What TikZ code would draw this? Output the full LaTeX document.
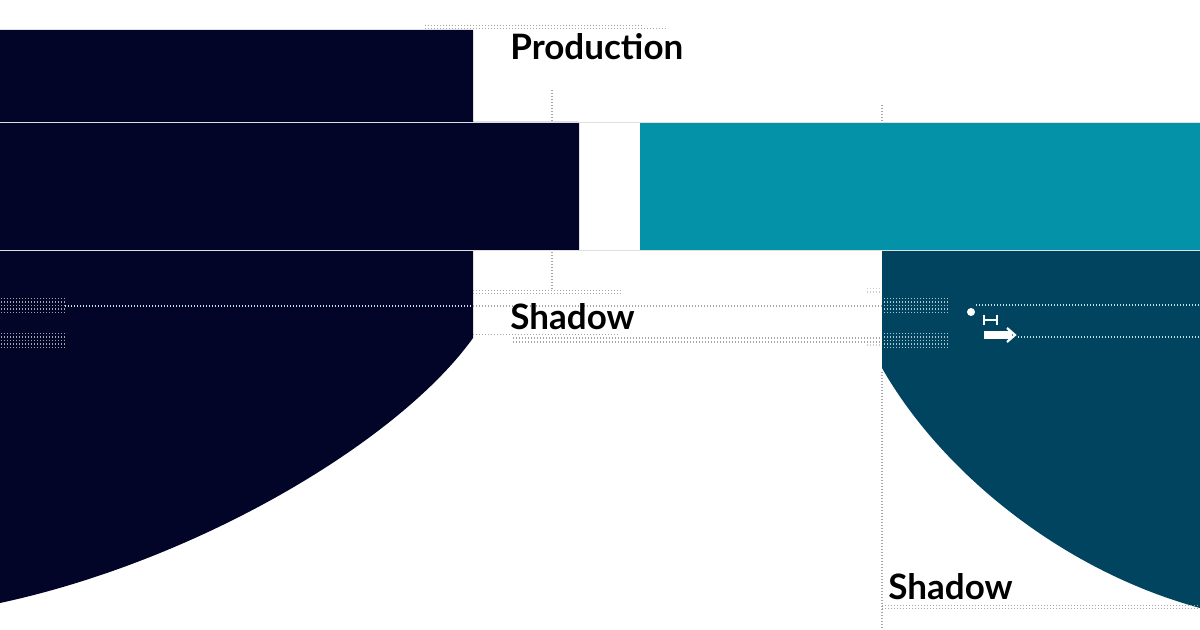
\documentclass[tikz,border=0pt]{standalone}
\usepackage{fontspec}
\setmainfont{Lato}
\usetikzlibrary{arrows.meta}
\definecolor{navy}{RGB}{2,4,40}
\definecolor{lagoon}{RGB}{4,146,168}
\definecolor{deepsea}{RGB}{1,68,96}

\begin{document}
\begin{tikzpicture}
        [%%%%%%%%%%%%%%%%%%%%%%%%%%%%%%
        x=0.5pt,y=-0.5pt,
        guide/.style={gray!70, line width=0.6pt, dash pattern=on 0.6pt off 0.9pt},
        paleguide/.style={white!75!lagoon, line width=0.6pt, dash pattern=on 0.6pt off 0.9pt},
        rule/.style={gray!25, line width=0.5pt},
        title/.style={font=\fontsize{17.5}{20}\selectfont\bfseries, inner sep=0pt, anchor=base west},
        ]%%%%%%%%%%%%%%%%%%%%%%%%%%%%%%
        \useasboundingbox[fill=white] (0,0) rectangle (1200,630);
        % Blocks
        \fill[navy] (0,30) -- (473,30) -- (473,122) -- (579,122) -- (579,251)
          -- (473,251) -- (473,338) .. controls (400,440) and (200,560) .. (0,603) -- cycle;
        \fill[lagoon] (640,123) rectangle (1200,251);
        \fill[deepsea] (882,251) -- (1200,251) -- (1200,608)
          .. controls (1060,570) and (940,470) .. (882,368) -- cycle;
        % Thin rules
        \draw[rule] (0,122.5) -- (1200,122.5);
        \draw[rule] (0,251) -- (1200,251);
        % Dot grids
        \foreach \x in {1,4,...,64}{
          \foreach \y in {298,301.5,...,313}{
            % LEFT GRID
            \fill[gray!70] (\x,\y) rectangle ++(1.4,1.4);
            \fill[gray!70] (\x,\y+35) rectangle ++(1.4,1.4);
            % RIGHT GRID
            \fill[white!70!deepsea] (\x+883,\y) rectangle ++(1.4,1.4);
            \fill[white!70!deepsea] (\x+883,\y+35) rectangle ++(1.4,1.4);
          }
        }
        \foreach \x in {867,870,...,879}{
          \foreach \y in {288,291.5}{
            \fill[gray!40] (\x,\y) rectangle ++(1.4,1.4);
            \fill[gray!40] (\x,\y+53) rectangle ++(1.4,1.4);
          }
        }
        % Guides
        \draw[guide] (425,25.5) -- (643,25.5);
        \draw[guide] (425,28.5) -- (667,28.5);
        \draw[guide] (552,90) -- (552,121);
        \draw[guide] (552,252) -- (552,289);
        \draw[guide] (473,290.5) -- (623,290.5);
        \draw[guide] (473,293.5) -- (623,293.5);
        \draw[paleguide] (65,306) -- (473,306);
        \draw[guide] (473,306) -- (882,306);
        \draw[paleguide] (976,305) -- (1200,305);
        \draw[guide] (473,334.5) -- (618,334.5);
        \draw[guide] (513,338) -- (880,338);
        \draw[guide] (513,342) -- (880,342);
        \draw[paleguide] (1018,337) -- (1200,337);
        \draw[guide] (882,105) -- (882,122);
        \draw[guide] (882,372) -- (882,630);
        \draw[guide] (882,605.5) -- (1200,605.5);
        \draw[guide] (882,608.5) -- (1200,608.5);
        % Text
        \node[title] (prod) at (510,60) {Production};
        \node[title] (shadowmid) at (510,330) {Shadow};
        \node[title] (shadowlow) at (888,599) {Shadow};
        % Markers
        \node[circle, fill=white, inner sep=0pt, minimum size=4pt] (spot) at (971,312) {};
        \coordinate (spanA) at (983,320);
        \coordinate (spanB) at (998,320);
        \draw[white, line width=0.9pt, {Bar[width=5pt]}-{Bar[width=5pt]}] (spanA) -- (spanB);
        \coordinate (arrA) at (984,335);
        \coordinate (arrB) at (1012,335);
        \coordinate (arrTip) at (1015,335);
        \draw[white, line width=3.6pt] (arrA) -- (arrB);
        \draw[white, line width=1.1pt] ([shift={(-8,-7)}]arrTip) -- (arrTip) -- ([shift={(-8,7)}]arrTip);
      \end{tikzpicture}
\end{document}
